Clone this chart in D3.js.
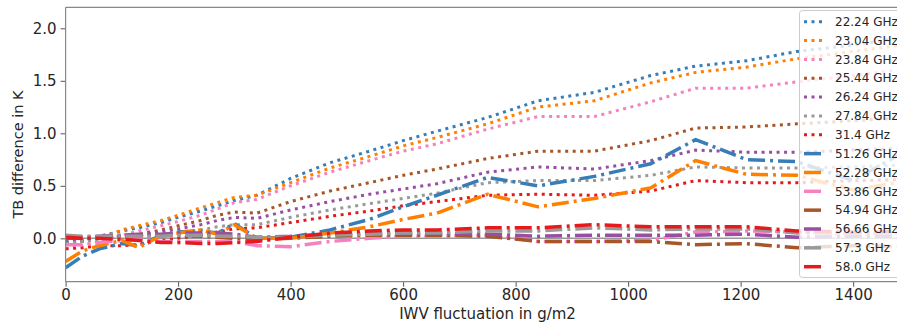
<!DOCTYPE html>
<html lang="en">
  <head>
    <meta charset="UTF-8" />
    <title>TB difference</title>
    <style>
      body { margin: 0; background: #fff; }
      text { font-family: "DejaVu Sans", sans-serif; fill: #262626; }
    </style>
  </head>
  <body>
    <script src="https://d3js.org/d3.v7.min.js"></script>
    <script>
      // IWV fluctuation (g/m2) sample points
      const iwv = [0, 30, 60, 100, 130, 170, 200, 240, 270, 300, 340, 400, 470, 540, 600, 660, 750, 840, 940, 1040, 1120, 1210, 1300, 1400, 1500];

      const freqLabels = ["22.24 GHz", "23.04 GHz", "23.84 GHz", "25.44 GHz", "26.24 GHz", "27.84 GHz", "31.4 GHz",
        "51.26 GHz", "52.28 GHz", "53.86 GHz", "54.94 GHz", "56.66 GHz", "57.3 GHz", "58.0 GHz"];

      // TB difference in K, one list per channel
      const tb2224 = [-0.03, -0.02, 0.02, 0.07, 0.1, 0.15, 0.2, 0.26, 0.31, 0.36, 0.41, 0.57, 0.72, 0.83, 0.93, 1.02, 1.15, 1.31, 1.39, 1.55, 1.64, 1.69, 1.78, 1.84, 1.92];
      const tb2304 = [-0.04, -0.03, 0.0, 0.08, 0.12, 0.17, 0.22, 0.29, 0.34, 0.39, 0.41, 0.53, 0.67, 0.78, 0.88, 0.96, 1.09, 1.25, 1.31, 1.48, 1.58, 1.63, 1.71, 1.78, 1.85];
      const tb2384 = [-0.1, -0.07, -0.03, 0.03, 0.07, 0.12, 0.16, 0.22, 0.28, 0.34, 0.37, 0.5, 0.63, 0.74, 0.83, 0.9, 1.04, 1.16, 1.16, 1.3, 1.43, 1.43, 1.49, 1.55, 1.62];
      const tb2544 = [-0.05, -0.03, 0.0, 0.02, 0.04, 0.08, 0.12, 0.17, 0.22, 0.25, 0.24, 0.35, 0.45, 0.53, 0.6, 0.66, 0.76, 0.83, 0.83, 0.93, 1.05, 1.06, 1.09, 1.12, 1.15];
      const tb2624 = [-0.04, -0.02, 0.0, 0.02, 0.03, 0.06, 0.09, 0.13, 0.17, 0.2, 0.19, 0.27, 0.35, 0.42, 0.47, 0.52, 0.63, 0.68, 0.66, 0.74, 0.84, 0.82, 0.82, 0.84, 0.86];
      const tb2784 = [-0.05, -0.03, -0.01, 0.0, 0.02, 0.04, 0.06, 0.08, 0.11, 0.13, 0.13, 0.2, 0.27, 0.33, 0.38, 0.43, 0.53, 0.55, 0.55, 0.6, 0.68, 0.67, 0.67, 0.68, 0.7];
      const tb3140 = [-0.1, -0.09, -0.07, -0.07, -0.06, -0.02, 0.0, 0.03, 0.06, 0.09, 0.1, 0.15, 0.21, 0.26, 0.31, 0.35, 0.41, 0.42, 0.41, 0.45, 0.55, 0.53, 0.53, 0.55, 0.56];
      const tb5126 = [-0.28, -0.17, -0.1, -0.05, -0.07, 0.03, 0.06, 0.07, 0.05, 0.14, 0.0, 0.01, 0.08, 0.18, 0.3, 0.41, 0.58, 0.5, 0.59, 0.71, 0.94, 0.75, 0.73, 0.55, 0.85];
      const tb5228 = [-0.22, -0.12, -0.07, -0.02, -0.09, 0.03, 0.05, 0.08, 0.04, 0.13, 0.0, 0.0, 0.05, 0.11, 0.18, 0.24, 0.42, 0.3, 0.38, 0.48, 0.74, 0.61, 0.6, 0.46, 0.55];
      const tb5386 = [-0.06, -0.06, -0.04, -0.02, -0.01, -0.03, -0.03, -0.03, -0.03, -0.03, -0.07, -0.08, -0.03, 0.0, 0.02, 0.02, 0.03, -0.03, -0.03, -0.02, 0.06, 0.07, 0.06, 0.04, 0.05];
      const tb5494 = [0.0, 0.0, 0.01, 0.02, 0.02, 0.03, 0.03, 0.02, 0.01, 0.0, -0.01, 0.0, 0.02, 0.03, 0.03, 0.03, 0.02, -0.03, -0.03, -0.03, -0.06, -0.05, -0.09, -0.07, -0.08];
      const tb5666 = [0.02, 0.01, 0.02, 0.03, 0.04, 0.04, 0.05, 0.05, 0.05, 0.04, 0.01, 0.02, 0.04, 0.05, 0.05, 0.05, 0.04, 0.02, 0.03, 0.03, 0.03, 0.04, 0.01, 0.02, 0.02];
      const tb5730 = [0.03, 0.02, 0.02, 0.02, 0.02, 0.02, 0.03, 0.03, 0.02, 0.02, 0.01, 0.01, 0.03, 0.04, 0.05, 0.05, 0.07, 0.07, 0.1, 0.08, 0.09, 0.09, 0.05, 0.05, 0.05];
      const tb5800 = [0.01, 0.0, 0.0, -0.01, -0.02, -0.04, -0.04, -0.05, -0.05, -0.04, -0.03, 0.01, 0.05, 0.07, 0.08, 0.08, 0.1, 0.1, 0.13, 0.11, 0.11, 0.11, 0.07, 0.06, 0.07];

      const xTicks = [0, 200, 400, 600, 800, 1000, 1200, 1400];
      const yTicks = [0.0, 0.5, 1.0, 1.5, 2.0];

      const allValues = [tb2224, tb2304, tb2384, tb2544, tb2624, tb2784, tb3140,
        tb5126, tb5228, tb5386, tb5494, tb5666, tb5730, tb5800];
      const colors = ["#377eb8", "#ff7f00", "#f781bf", "#a65628", "#984ea3", "#999999", "#e41a1c"];

      const series = allValues.map((vals, i) => ({
        name: freqLabels[i],
        color: colors[i % 7],
        dotted: i < 7,
        points: vals.map((v, j) => [iwv[j], v]),
      }));

      const W = 897, H = 327;
      const margin = { left: 65.6, top: 7.3, right: 909.4, bottom: 281.7 };

      const x = d3.scaleLinear().domain([0, 1500]).range([margin.left, margin.right]);
      const y = d3.scaleLinear().domain([-0.413, 2.2]).range([margin.bottom, margin.top]);

      const svg = d3.select("body").append("svg").attr("width", W).attr("height", H);

      svg.append("clipPath").attr("id", "clip")
        .append("rect")
        .attr("x", margin.left).attr("y", margin.top)
        .attr("width", margin.right - margin.left)
        .attr("height", margin.bottom - margin.top);

      const plot = svg.append("g").attr("clip-path", "url(#clip)");

      // zero line
      plot.append("line")
        .attr("x1", x(0)).attr("x2", x(1500))
        .attr("y1", y(0)).attr("y2", y(0))
        .attr("stroke", "#999").attr("stroke-width", 1.5);

      const line = d3.line().x((d) => x(d[0])).y((d) => y(d[1]));

      const dotDash = "3,4.5";
      const dashDot = "17,5,3,5";

      plot.selectAll("path.series")
        .data(series)
        .join("path")
        .attr("class", "series")
        .attr("d", (d) => line(d.points))
        .attr("fill", "none")
        .attr("stroke", (d) => d.color)
        .attr("stroke-width", (d) => (d.dotted ? 3 : 3.5))
        .attr("stroke-dasharray", (d) => (d.dotted ? dotDash : dashDot));

      // axes
      const xAxis = svg.append("g")
        .attr("transform", `translate(0,${margin.bottom})`)
        .call(d3.axisBottom(x).tickValues(xTicks).tickFormat(d3.format("d")).tickSize(5).tickPadding(3));
      const yAxis = svg.append("g")
        .attr("transform", `translate(${margin.left},0)`)
        .call(d3.axisLeft(y).tickValues(yTicks).tickFormat(d3.format(".1f")).tickSize(5).tickPadding(4));

      [xAxis, yAxis].forEach((ax) => {
        ax.select(".domain").remove();
        ax.selectAll("line").attr("stroke", "#555");
        ax.selectAll("text").attr("font-size", 15).attr("fill", "#262626")
          .attr("font-family", "DejaVu Sans");
      });

      // spines
      const spine = svg.append("g").attr("stroke", "#888").attr("stroke-width", 1.2);
      spine.append("line").attr("x1", margin.left).attr("x2", margin.left).attr("y1", margin.top).attr("y2", margin.bottom);
      spine.append("line").attr("x1", margin.left).attr("x2", margin.right).attr("y1", margin.bottom).attr("y2", margin.bottom);
      spine.append("line").attr("x1", margin.left).attr("x2", margin.right).attr("y1", margin.top).attr("y2", margin.top);
      spine.append("line").attr("x1", margin.right).attr("x2", margin.right).attr("y1", margin.top).attr("y2", margin.bottom);

      // axis labels
      svg.append("text")
        .attr("x", (margin.left + margin.right) / 2)
        .attr("y", 319)
        .attr("text-anchor", "middle")
        .attr("font-size", 15)
        .text("IWV fluctuation in g/m2");

      svg.append("text")
        .attr("transform", `translate(23,${(margin.top + margin.bottom) / 2 + 10}) rotate(-90)`)
        .attr("text-anchor", "middle")
        .attr("font-size", 14.5)
        .text("TB difference in K");

      // legend
      const legend = svg.append("g");
      legend.append("rect")
        .attr("x", 799.5).attr("y", 10.5)
        .attr("width", 110).attr("height", 267)
        .attr("rx", 3)
        .attr("fill", "white").attr("fill-opacity", 0.8)
        .attr("stroke", "#ccc");

      const rowY = d3.scaleLinear().domain([0, 13]).range([21.7, 266.7]);
      const items = legend.selectAll("g.item")
        .data(series)
        .join("g")
        .attr("class", "item")
        .attr("transform", (d, i) => `translate(0,${rowY(i)})`);

      items.append("line")
        .attr("x1", 804).attr("x2", 824)
        .attr("y1", 0).attr("y2", 0)
        .attr("stroke", (d) => d.color)
        .attr("stroke-width", (d) => (d.dotted ? 3 : 3.5))
        .attr("stroke-dasharray", (d) => (d.dotted ? dotDash : dashDot));

      items.append("text")
        .attr("x", 835).attr("y", 0)
        .attr("dy", "0.35em")
        .attr("font-size", 12)
        .text((d) => d.name);
    </script>
  </body>
</html>
